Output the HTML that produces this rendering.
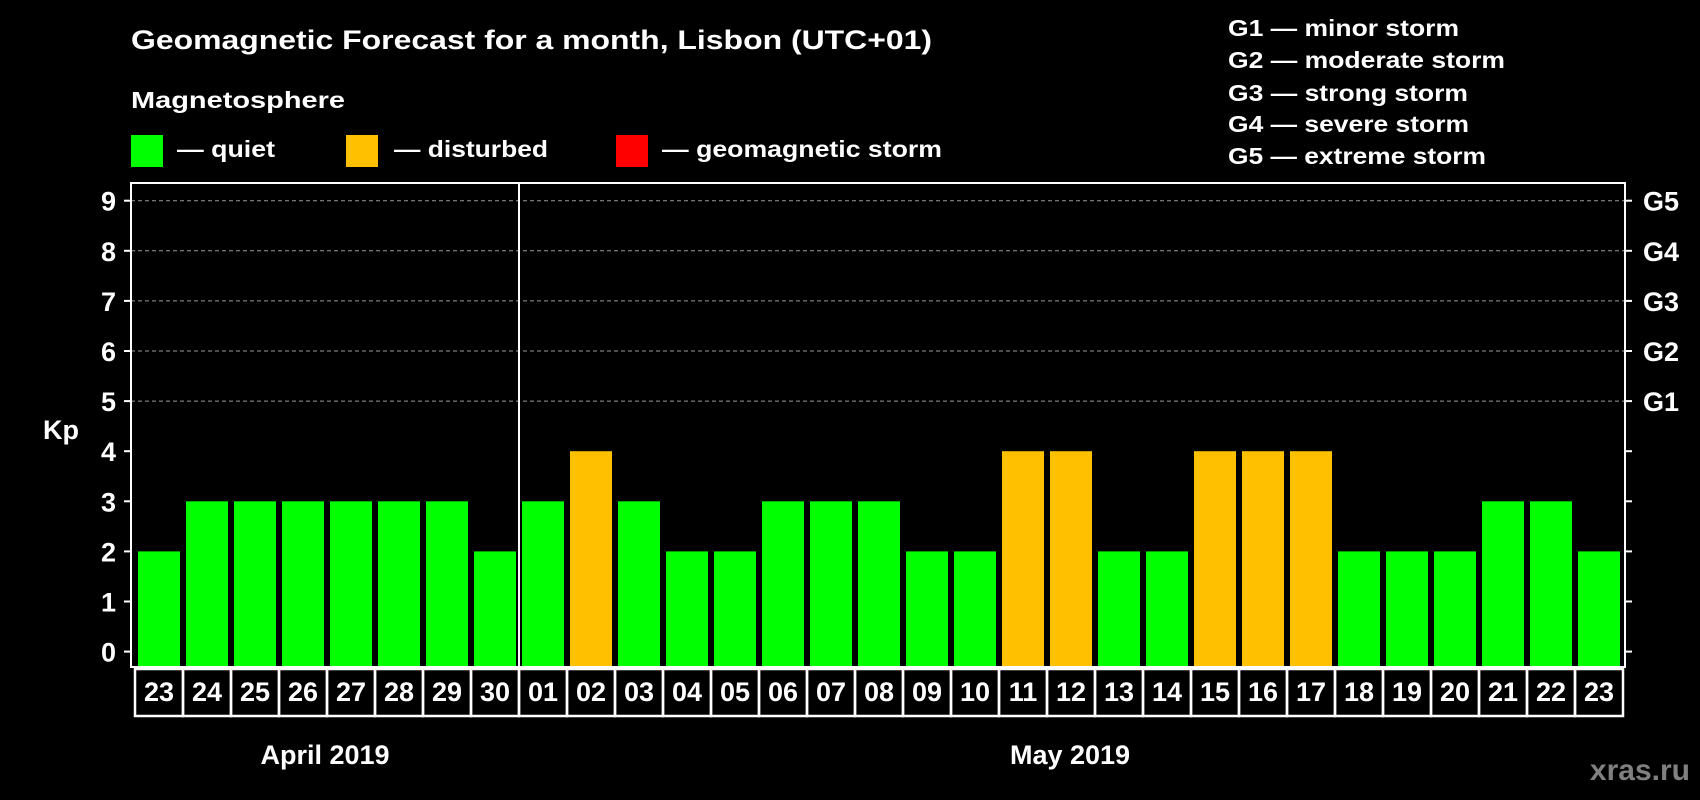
<!DOCTYPE html>
<html><head><meta charset="utf-8"><style>
html,body{margin:0;padding:0;background:#000;}
svg{display:block;}
text{font-family:"Liberation Sans",Arial,sans-serif;font-weight:bold;fill:#fff;}
</style></head><body>
<svg id="chart" width="1700" height="800" viewBox="0 0 1700 800" xmlns="http://www.w3.org/2000/svg">
<rect x="0" y="0" width="1700" height="800" fill="#000"/>
<text x="131" y="49" font-size="27" textLength="801" lengthAdjust="spacingAndGlyphs">Geomagnetic Forecast for a month, Lisbon (UTC+01)</text>
<text x="131" y="108" font-size="23" textLength="214" lengthAdjust="spacingAndGlyphs">Magnetosphere</text>
<rect x="131" y="135" width="32" height="32" fill="#00ff00"/>
<text x="177" y="157" font-size="23" textLength="98" lengthAdjust="spacingAndGlyphs">— quiet</text>
<rect x="346" y="135" width="32" height="32" fill="#ffc000"/>
<text x="394" y="157" font-size="23" textLength="154" lengthAdjust="spacingAndGlyphs">— disturbed</text>
<rect x="616" y="135" width="32" height="32" fill="#ff0000"/>
<text x="662" y="157" font-size="23" textLength="280" lengthAdjust="spacingAndGlyphs">— geomagnetic storm</text>
<g font-size="23">
<text x="1228" y="36" textLength="231" lengthAdjust="spacingAndGlyphs">G1 — minor storm</text>
<text x="1228" y="68" textLength="277" lengthAdjust="spacingAndGlyphs">G2 — moderate storm</text>
<text x="1228" y="101" textLength="240" lengthAdjust="spacingAndGlyphs">G3 — strong storm</text>
<text x="1228" y="132" textLength="241" lengthAdjust="spacingAndGlyphs">G4 — severe storm</text>
<text x="1228" y="164" textLength="258" lengthAdjust="spacingAndGlyphs">G5 — extreme storm</text>
</g>
<g id="grid"></g>
<g id="bars"></g>
<g id="axes"></g>
<g id="xlabels"></g>
<text x="43" y="439" font-size="27">Kp</text>
<text x="325" y="764" font-size="27" text-anchor="middle">April 2019</text>
<text x="1070" y="764" font-size="27" text-anchor="middle">May 2019</text>
<text x="1690" y="780" font-size="30" text-anchor="end" style="fill:#808080">xras.ru</text>
</svg>
<script>
const days = ["23","24","25","26","27","28","29","30","01","02","03","04","05","06","07","08","09","10","11","12","13","14","15","16","17","18","19","20","21","22","23"];
const kpValues = [2,3,3,3,3,3,3,2,3,4,3,2,2,3,3,3,2,2,4,4,2,2,4,4,4,2,2,2,3,3,2];
const yTicks = [0,1,2,3,4,5,6,7,8,9];
const gLabels = ["G1","G2","G3","G4","G5"];
const gLevels = [5,6,7,8,9];
const monthBreakIndex = 8;

const NS="http://www.w3.org/2000/svg";
const L=131,R=1625,T=183,B=667;
const Y0=651.6,UNIT=50.1;
const X0=138,PITCH=48,BW=42;
function y(v){return Y0-v*UNIT;}
function x(i){return X0+i*PITCH;}
function mk(tag,attrs,parent){const e=document.createElementNS(NS,tag);for(const k in attrs)e.setAttribute(k,attrs[k]);parent.appendChild(e);return e;}
function color(v){return v>=5?"#ff0000":(v>=4?"#ffc000":"#00ff00");}

const grid=document.getElementById('grid');
gLevels.forEach((lv,i)=>{
  const ln=mk('line',{x1:L,x2:R,y1:y(lv),y2:y(lv),stroke:'#9a9a9a','stroke-width':1,'stroke-dasharray':'4,3'},grid);
  
  
  const t=mk('text',{x:1643,y:y(lv)+10,'font-size':27},grid);
  t.textContent=gLabels[i];
  
  
});

const bars=document.getElementById('bars');
kpValues.forEach((v,i)=>{
  const r=mk('rect',{x:x(i),y:y(v),width:BW,height:B-y(v),fill:color(v)},bars);
  
  
});

const axes=document.getElementById('axes');
const frame=mk('rect',{x:L,y:T,width:R-L,height:B-T,fill:'none',stroke:'#fff','stroke-width':2},axes);


const div=mk('line',{x1:x(monthBreakIndex)-3,x2:x(monthBreakIndex)-3,y1:T,y2:B,stroke:'#fff','stroke-width':2},axes);


yTicks.forEach(v=>{
  mk('line',{x1:L-7,x2:L,y1:y(v),y2:y(v),stroke:'#fff','stroke-width':2},axes);
  mk('line',{x1:R,x2:R+7,y1:y(v),y2:y(v),stroke:'#fff','stroke-width':2},axes);
  const t=mk('text',{x:116,y:y(v)+10,'font-size':27,'text-anchor':'end'},axes);
  t.textContent=v;
  
  
});

const xl=document.getElementById('xlabels');
days.forEach((d,i)=>{
  const cx=135+i*PITCH;
  const c=mk('rect',{x:cx,y:669,width:PITCH,height:47,fill:'none',stroke:'#fff','stroke-width':2.5},xl);
  
  
  const t=mk('text',{x:cx+PITCH/2,y:701,'font-size':27,'text-anchor':'middle'},xl);
  t.textContent=d;
  
  
});
</script>
</body></html>
